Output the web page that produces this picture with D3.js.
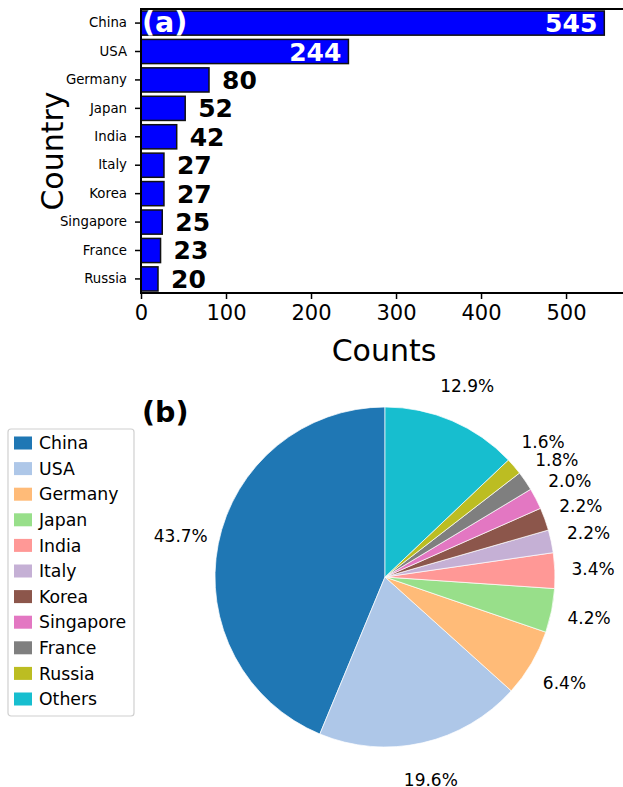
<!DOCTYPE html>
<html>
<head>
<meta charset="utf-8">
<script src="https://cdn.jsdelivr.net/npm/d3@7"></script>
<style>
  body { margin: 0; background: #fff; }
  svg { display: block; font-family: "DejaVu Sans", sans-serif; }
</style>
</head>
<body>
<div id="chart-area"></div>
<script>
// data
var countries = ["China", "USA", "Germany", "Japan", "India", "Italy", "Korea", "Singapore", "France", "Russia"];
var counts = [545, 244, 80, 52, 42, 27, 27, 25, 23, 20];
var pieLabels = ["China", "USA", "Germany", "Japan", "India", "Italy", "Korea", "Singapore", "France", "Russia", "Others"];
var pieCounts = [545, 244, 80, 52, 42, 27, 27, 25, 23, 20, 161];
var xTicks = [0, 100, 200, 300, 400, 500];
var tab20 = ["#1f77b4", "#aec7e8", "#ffbb78", "#98df8a", "#ff9896", "#c5b0d5", "#8c564b", "#e377c2", "#7f7f7f", "#bcbd22", "#17becf"];

var W = 623, H = 787;
var svg = d3.select("#chart-area").append("svg")
    .attr("width", W).attr("height", H);
svg.append("rect").attr("width", W).attr("height", H).attr("fill", "#fff");

// ---- (a) bar chart ----
var axLeft = 141, axTop = 9, axBottom = 293;
var x = d3.scaleLinear().domain([0, 567]).range([axLeft, W]);
var y = d3.scaleBand().domain(countries).range([axTop, axBottom])
    .paddingInner(0.15).paddingOuter(0.07);

var ga = svg.append("g");

ga.selectAll("rect.bar").data(counts).enter()
    .append("rect")
    .attr("class", "bar")
    .attr("x", x(0))
    .attr("y", function(d, i) { return y(countries[i]); })
    .attr("width", function(d) { return x(d) - x(0); })
    .attr("height", y.bandwidth())
    .attr("fill", "#0000ff")
    .attr("stroke", "#111")
    .attr("stroke-width", 1.5);

// value labels
ga.selectAll("text.val").data(counts).enter()
    .append("text")
    .attr("class", "val")
    .attr("x", function(d) { return d > 200 ? x(d) - 7 : x(d) + 13; })
    .attr("y", function(d, i) { return y(countries[i]) + y.bandwidth() / 2; })
    .attr("dy", "0.36em")
    .attr("text-anchor", function(d) { return d > 200 ? "end" : "start"; })
    .attr("fill", function(d) { return d > 200 ? "#fff" : "#000"; })
    .attr("font-size", "25px")
    .attr("font-weight", "bold")
    .text(function(d) { return d; });

// axes
var yAxis = ga.append("g")
    .attr("transform", "translate(" + axLeft + ",0)")
    .call(d3.axisLeft(y).tickSize(6).tickPadding(8));
yAxis.select(".domain").remove();
yAxis.selectAll("text").attr("font-size", "13.3px").attr("font-family", "DejaVu Sans").attr("fill", "#000");
yAxis.selectAll("line").attr("stroke", "#000").attr("stroke-width", 1.5);

var xAxis = ga.append("g")
    .attr("transform", "translate(0," + axBottom + ")")
    .call(d3.axisBottom(x).tickValues(xTicks).tickSize(6).tickPadding(6).tickFormat(d3.format("d")));
xAxis.select(".domain").remove();
xAxis.selectAll("text").attr("font-size", "21px").attr("font-family", "DejaVu Sans").attr("fill", "#000");
xAxis.selectAll("line").attr("stroke", "#000").attr("stroke-width", 1.5);

// spines
ga.append("line").attr("x1", axLeft).attr("x2", W).attr("y1", axTop).attr("y2", axTop)
    .attr("stroke", "#000").attr("stroke-width", 2);
ga.append("line").attr("x1", axLeft).attr("x2", W).attr("y1", axBottom).attr("y2", axBottom)
    .attr("stroke", "#000").attr("stroke-width", 2);
ga.append("line").attr("x1", axLeft).attr("x2", axLeft).attr("y1", axTop - 1).attr("y2", axBottom + 1)
    .attr("stroke", "#000").attr("stroke-width", 2);

// axis labels
ga.append("text")
    .attr("x", 384).attr("y", 361)
    .attr("text-anchor", "middle")
    .attr("font-size", "30px")
    .text("Counts");
ga.append("text")
    .attr("transform", "translate(63,151) rotate(-90)")
    .attr("text-anchor", "middle")
    .attr("font-size", "30px")
    .text("Country");

ga.append("text")
    .attr("x", 142).attr("y", 32)
    .attr("fill", "#fff")
    .attr("font-size", "28.5px")
    .attr("font-weight", "bold")
    .text("(a)");

// ---- (b) pie chart ----
var cx = 385, cy = 577, r = 170;
var gb = svg.append("g").attr("transform", "translate(" + cx + "," + cy + ")");
var total = d3.sum(pieCounts);

var pie = d3.pie().sort(null).startAngle(0).endAngle(-2 * Math.PI);
var arcs = pie(pieCounts);
var arc = d3.arc().innerRadius(0).outerRadius(r);
var labelArc = d3.arc().innerRadius(r * 1.225).outerRadius(r * 1.225);

gb.selectAll("path").data(arcs).enter()
    .append("path")
    .attr("d", arc)
    .attr("fill", function(d, i) { return tab20[i]; })
    .attr("stroke", "#fff")
    .attr("stroke-width", 0.7);

gb.selectAll("text.pct").data(arcs).enter()
    .append("text")
    .attr("class", "pct")
    .attr("transform", function(d) { return "translate(" + labelArc.centroid(d) + ")"; })
    .attr("text-anchor", "middle")
    .attr("dy", "0.36em")
    .attr("font-size", "17px")
    .text(function(d) { return d3.format(".1f")(d.value / total * 100) + "%"; });

svg.append("text")
    .attr("x", 142).attr("y", 422)
    .attr("font-size", "28.5px")
    .attr("font-weight", "bold")
    .text("(b)");

// legend
var lg = svg.append("g");
lg.append("rect")
    .attr("x", 8).attr("y", 429).attr("width", 126).attr("height", 287)
    .attr("rx", 3)
    .attr("fill", "#fff").attr("stroke", "#d0d0d0").attr("stroke-width", 1.2);
var items = lg.selectAll("g.item").data(pieLabels).enter()
    .append("g").attr("class", "item")
    .attr("transform", function(d, i) { return "translate(0," + (443 + i * 25.6) + ")"; });
items.append("rect")
    .attr("x", 14).attr("y", -6.5).attr("width", 18).attr("height", 13)
    .attr("fill", function(d, i) { return tab20[i]; });
items.append("text")
    .attr("x", 39).attr("dy", "0.36em")
    .attr("font-size", "17.3px")
    .text(function(d) { return d; });
</script>
</body>
</html>
